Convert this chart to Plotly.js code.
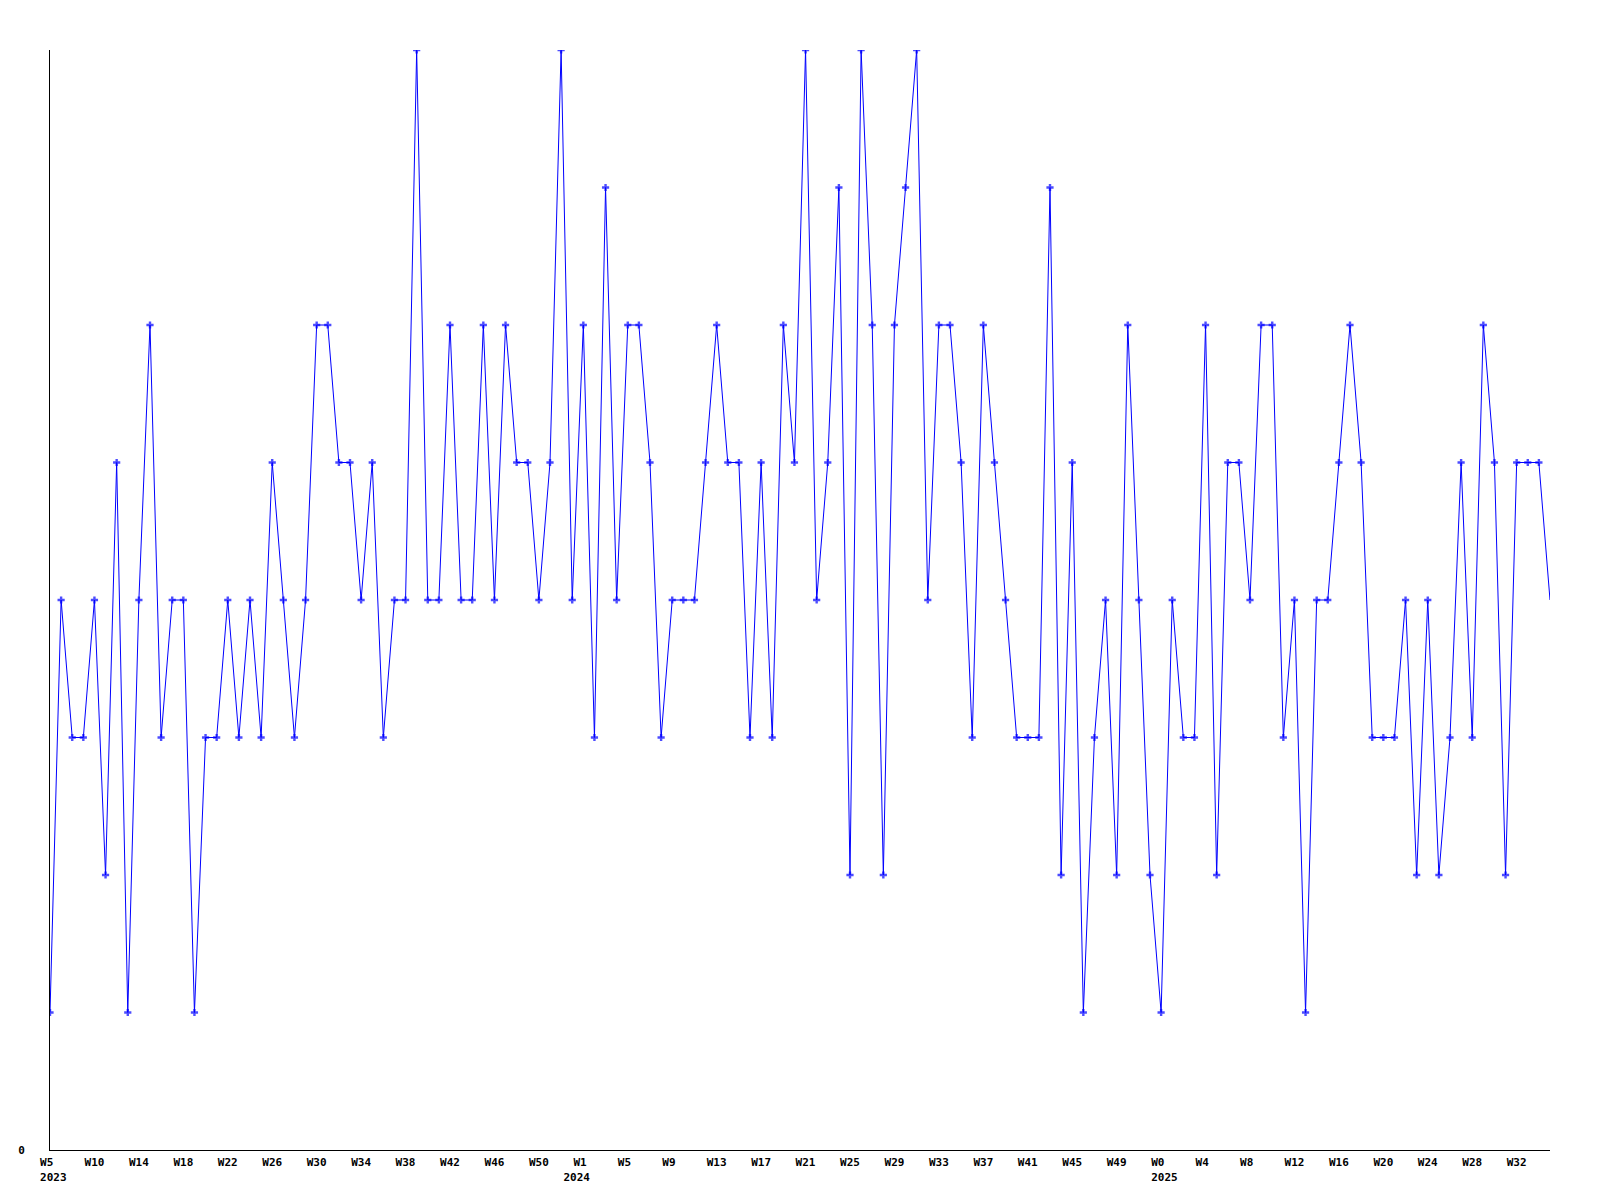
<!DOCTYPE html>
<html>
<head>
<meta charset="utf-8">
<script src="https://cdn.plot.ly/plotly-3.0.1.min.js"></script>
<style>html,body{margin:0;padding:0;background:#fff;}#chart{width:1600px;height:1200px;}</style>
</head>
<body>
<div id="chart"></div>
<script>
// Weekly values, one per week starting at W5 2023
var values = [
  1,4,3,3,4,2,5,1,4,6,
  3,4,4,1,3,3,4,3,4,3,
  5,4,3,4,6,6,5,5,4,5,
  3,4,4,8,4,4,6,4,4,6,
  4,6,5,5,4,5,8,4,6,3,
  7,4,6,6,5,3,4,4,4,5,
  6,5,5,3,5,3,6,5,8,4,
  5,7,2,8,6,2,6,7,8,4,
  6,6,5,3,6,5,4,3,3,3,
  7,2,5,1,3,4,2,6,4,2,
  1,4,3,3,6,2,5,5,4,6,
  6,3,4,1,4,4,5,6,5,3,
  3,3,4,2,4,2,3,5,3,6,
  5,2,5,5,5,4
];
// Tick positions (point index) and labels (no-break spaces only nudge the text like the original)
var tickIndex = [0,4,8,12,16,20,24,28,32,36,40,44,48,52,56,60,64,68,72,76,80,84,88,92,96,100,104,108,112,116,120,124,128,132];
var tickLabels = ['W5\u00a0<br>\u00a02023','W10','W14','W18','W22','W26','W30','W34','W38','W42','W46','W50',
  'W1\u00a0<br>2024\u00a0\u00a0','W5\u00a0','W9\u00a0','W13','W17','W21','W25','W29','W33','W37','W41','W45','W49',
  'W0\u00a0<br>\u00a02025','W4\u00a0','W8\u00a0','W12','W16','W20','W24','W28','W32'];
var yTickVals = [0];
var yTickText = ['0'];

var xs = values.map(function(v, i){ return i; });
var markerSizes = values.map(function(v, i){ return i === values.length - 1 ? 0 : 6; });
var tickFont = {family: 'DejaVu Sans Mono, monospace', size: 11, color: '#000', weight: 'bold'};

var trace = {
  x: xs, y: values, type: 'scatter', mode: 'lines+markers',
  line: {color: '#0000ff', width: 1},
  marker: {color: '#0000ff', size: markerSizes, symbol: 'cross', line: {width: 0}},
  hoverinfo: 'x+y'
};
var layout = {
  width: 1600, height: 1200,
  margin: {l: 50, r: 50, t: 50, b: 50, pad: 0},
  paper_bgcolor: '#ffffff', plot_bgcolor: '#ffffff',
  showlegend: false,
  xaxis: {
    range: [0, values.length - 1], showgrid: false, zeroline: false,
    showline: true, linecolor: '#000', linewidth: 1,
    tickmode: 'array', tickvals: tickIndex, ticktext: tickLabels,
    ticks: 'outside', ticklen: 2, tickcolor: 'rgba(0,0,0,0)',
    tickfont: tickFont, tickangle: 0
  },
  yaxis: {
    range: [0, 8], showgrid: false, zeroline: false,
    showline: true, linecolor: '#000', linewidth: 1,
    tickmode: 'array', tickvals: yTickVals, ticktext: yTickText,
    ticks: 'outside', ticklen: 22, tickcolor: 'rgba(0,0,0,0)',
    tickfont: tickFont
  }
};
Plotly.newPlot('chart', [trace], layout, {staticPlot: true, displayModeBar: false});
</script>
</body>
</html>
